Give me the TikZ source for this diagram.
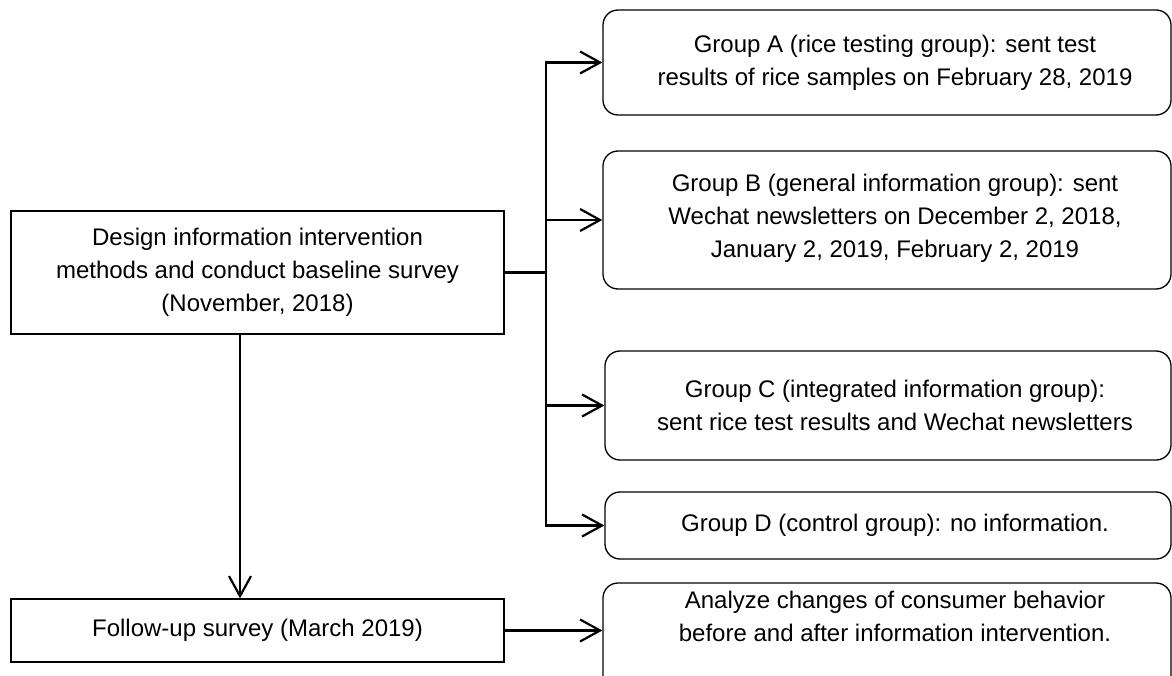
\documentclass[tikz,border=0pt]{standalone}
\usepackage{fontspec}
\setmainfont{Liberation Sans}
\usetikzlibrary{arrows.meta}
\begin{document}
\begin{tikzpicture}[x=1pt,y=-1pt,
  box/.style={draw,line width=1.3pt,inner sep=0pt},
  rbox/.style={box,rounded corners=15pt},
  txt/.style={align=center,font=\fontsize{24}{33}\selectfont,inner sep=0pt},
  conn/.style={line width=2.2pt},
  arr/.style={conn,-{Straight Barb[length=20pt,width=22pt,line width=2.2pt]}}]
\useasboundingbox (0,0) rectangle (1172,676);
\node[box,minimum width=493pt,minimum height=123pt] (L) at (257.5,272.5) {};
\node[txt] (Lt) at (L.center) {Design information intervention\\methods and conduct baseline survey\\(November, 2018)};
\node[box,minimum width=493pt,minimum height=63pt] (F) at (257.5,630.5) {};
\node[txt] (Ft) at (F.center) {Follow-up survey (March 2019)};
\node[rbox,minimum width=568pt,minimum height=105pt] (A) at (887,62.5) {};
\node[txt] (At) at (895,62.5) {Group A (rice testing group): sent test\\results of rice samples on February 28, 2019};
\node[rbox,minimum width=568pt,minimum height=138pt] (B) at (887,220) {};
\node[txt] (Bt) at (895,218) {Group B (general information group): sent\\Wechat newsletters on December 2, 2018,\\January 2, 2019, February 2, 2019};
\node[rbox,minimum width=566pt,minimum height=109pt] (C) at (888,405.5) {};
\node[txt] (Ct) at (895,405.5) {Group C (integrated information group):\\sent rice test results and Wechat newsletters};
\node[rbox,minimum width=566pt,minimum height=67pt] (D) at (888,525.5) {};
\node[txt] (Dt) at (895,525.5) {Group D (control group): no information.};
\node[rbox,minimum width=568pt,minimum height=117pt] (E) at (887,641.5) {};
\node[txt] (Et) at (895,616) {Analyze changes of consumer behavior\\before and after information intervention.};
\coordinate (tr) at (546,0);
\coordinate (va) at (240,0);
\draw[conn] (L.east) -- (tr |- L.east);
\draw[arr] (tr |- D.west) -- (tr |- A.west) -- (A.west);
\draw[arr] (tr |- A.west) -- (tr |- D.west) -- (D.west);
\draw[arr] (tr |- B.west) -- (B.west);
\draw[arr] (tr |- C.west) -- (C.west);
\draw[arr] (va |- L.south) -- (va |- F.north);
\draw[arr] (F.east) -- (F.east -| E.west);
\end{tikzpicture}
\end{document}
